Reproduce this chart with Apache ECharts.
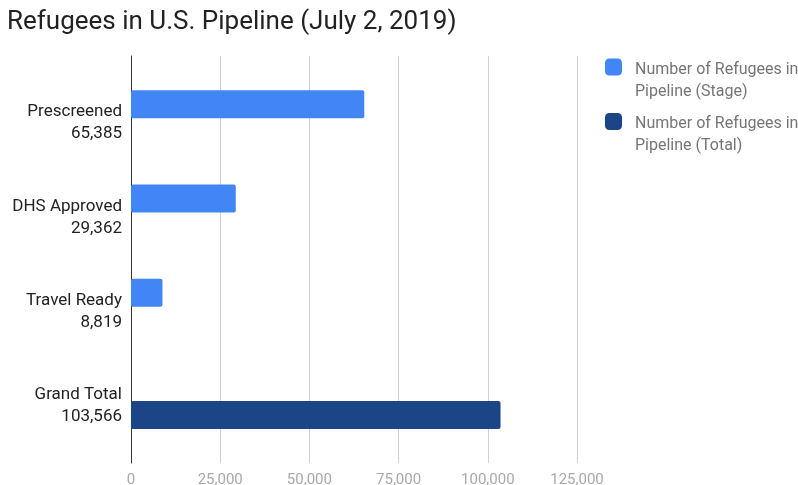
<!DOCTYPE html>
<html><head><meta charset="utf-8">
<script src="https://cdn.jsdelivr.net/npm/echarts@6/dist/echarts.min.js"></script>
<style>html,body{margin:0;padding:0;background:#fff}#c{width:798px;height:485px}</style>
</head><body><div id="c"></div>
<script>
const categories = ['Prescreened', 'DHS Approved', 'Travel Ready', 'Grand Total'];
const categoryValueLabels = ['65,385', '29,362', '8,819', '103,566'];
const stageValues = [65385, 29362, 8819, null];
const totalValues = [null, null, null, 103566];
const seriesNames = ['Number of Refugees in\nPipeline (Stage)', 'Number of Refugees in\nPipeline (Total)'];
const xTicks = [0, 25000, 50000, 75000, 100000, 125000];

const chart = echarts.init(document.getElementById('c'));
const font = 'Roboto';
chart.setOption({
  animation: false,
  title: {
    text: 'Refugees in U.S. Pipeline (July 2, 2019)',
    left: 2, top: 4,
    textStyle: { fontFamily: font, fontSize: 26, fontWeight: 'normal', color: '#222' }
  },
  legend: {
    orient: 'vertical',
    left: 605, top: 43, padding: 0,
    itemWidth: 17, itemHeight: 17, itemGap: -2,
    icon: 'roundRect',
    data: seriesNames,
    formatter: n => '{s| }\n' + n.split('\n').map(t => '{a|' + t + '}').join('\n'),
    textStyle: { fontFamily: font, fontSize: 16, color: '#757575', padding: [0, 0, 0, 8],
      rich: {
        s: { fontSize: 4, lineHeight: 27 },
        a: { fontFamily: font, fontSize: 16, color: '#757575', lineHeight: 22 }
      } }
  },
  grid: [
    { left: 131, right: 221, top: 71, height: 377, outerBoundsMode: 'none', containLabel: false },
    { left: 131, right: 221, top: 56, bottom: 22, outerBoundsMode: 'none', containLabel: false }
  ],
  xAxis: [
    { type: 'value', gridIndex: 0, min: xTicks[0], max: xTicks[xTicks.length - 1], interval: 25000, show: false },
    { type: 'value', gridIndex: 1, min: xTicks[0], max: xTicks[xTicks.length - 1], interval: 25000,
      axisLine: { show: false }, axisTick: { show: false },
      splitLine: { lineStyle: { color: '#d0d0d0', width: 1 } },
      axisLabel: { fontFamily: font, fontSize: 15, color: '#a8a8a8', margin: 10,
        formatter: v => v.toLocaleString('en-US') } }
  ],
  yAxis: [
    { type: 'category', gridIndex: 0, inverse: true, data: categories,
      axisLine: { show: false }, axisTick: { show: false },
      axisLabel: { fontFamily: font, fontSize: 17, color: '#222', margin: 9, align: 'right',
        formatter: (v, i) => '{s| }\n{a|' + v + '}\n{a|' + categoryValueLabels[i] + '}',
        rich: {
          s: { fontSize: 4, lineHeight: 10 },
          a: { fontFamily: font, fontSize: 17, color: '#222', lineHeight: 22, align: 'right' }
        } } },
    { type: 'value', gridIndex: 1, min: 0, max: 1,
      axisLine: { show: true, lineStyle: { color: '#333', width: 1 } },
      axisTick: { show: false }, axisLabel: { show: false }, splitLine: { show: false } }
  ],
  series: [
    { name: seriesNames[0], type: 'bar', xAxisIndex: 0, yAxisIndex: 0, data: stageValues,
      barWidth: 28, barGap: '0%', itemStyle: { color: '#4285f4', borderRadius: 2 } },
    { name: seriesNames[1], type: 'bar', xAxisIndex: 0, yAxisIndex: 0, data: totalValues,
      barWidth: 28, barGap: '0%', itemStyle: { color: '#1c4587', borderRadius: 2 } }
  ]
});
</script></body></html>
